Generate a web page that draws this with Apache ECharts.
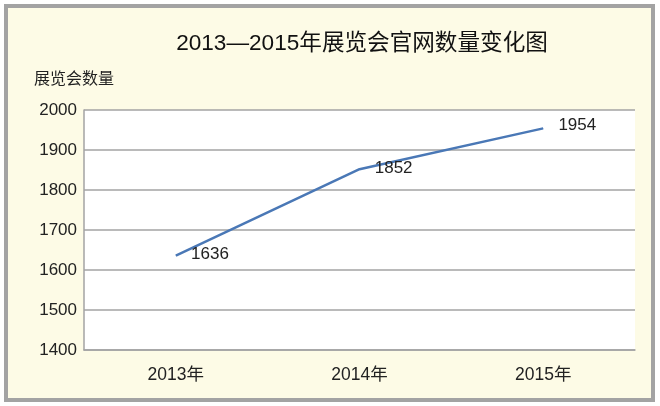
<!DOCTYPE html>
<html><head><meta charset="utf-8">
<script src="https://cdn.jsdelivr.net/npm/echarts@6/dist/echarts.min.js"></script>
<style>html,body{margin:0;padding:0;background:#fff;}#c{width:660px;height:406px;}</style>
</head><body><div id="c"></div>
<script>
var categories = ['2013年', '2014年', '2015年'];
var values = [1636, 1852, 1954];
var yTicks = [1400, 1500, 1600, 1700, 1800, 1900, 2000];
var labelOffsets = [[10, -1], [10, -1], [10, -3]];

var FONT = '"Liberation Sans", Arial, "Noto Sans CJK SC", sans-serif';
var chart = echarts.init(document.getElementById('c'));
chart.setOption({
  backgroundColor: '#fff',
  animation: false,
  graphic: [{
    type: 'rect', z: -10, silent: true,
    shape: { x: 6, y: 6, width: 647, height: 394 },
    style: { fill: '#fdfbe6', stroke: '#a3a3a3', lineWidth: 4 }
  }],
  title: {
    text: '2013—2015年展览会官网数量变化图',
    left: 357, top: 27, textAlign: 'center',
    textStyle: { fontFamily: FONT, fontSize: 22.6, fontWeight: 'normal', color: '#111' }
  },
  grid: { left: 84, right: 25, top: 110, bottom: 56, show: true, backgroundColor: '#fff', borderWidth: 0 },
  xAxis: {
    type: 'category', data: categories, boundaryGap: true,
    axisLine: { lineStyle: { color: '#a3a3a3', width: 1.5 } },
    axisTick: { inside: true, length: 6, lineStyle: { color: '#a3a3a3', width: 1.5 } },
    axisLabel: { margin: 16, fontFamily: FONT, fontSize: 17.5, color: '#222' }
  },
  yAxis: {
    type: 'value', min: yTicks[0], max: yTicks[yTicks.length - 1], interval: 100,
    name: '展览会数量', nameLocation: 'end', nameGap: 22,
    nameTextStyle: { fontFamily: FONT, fontSize: 16, color: '#222', align: 'left', padding: [0, 0, 0, -50] },
    axisLine: { show: true, lineStyle: { color: '#a3a3a3', width: 1.5 } },
    axisTick: { show: false },
    splitLine: { lineStyle: { color: '#a3a3a3', width: 1.5 } },
    axisLabel: { margin: 7, fontFamily: FONT, fontSize: 17, color: '#222', formatter: function (v) { return String(v); } }
  },
  series: [{
    type: 'line',
    data: values.map(function (v, i) {
      return { value: v, label: { show: true, position: 'right', offset: labelOffsets[i] } };
    }),
    showSymbol: true, symbol: 'circle', symbolSize: 0.5,
    itemStyle: { color: '#4a78b6' },
    lineStyle: { color: '#4a78b6', width: 2.5 },
    label: { show: true, position: 'right', fontFamily: FONT, fontSize: 17, color: '#222', formatter: function (p) { return String(p.value); } }
  }]
});
</script></body></html>
